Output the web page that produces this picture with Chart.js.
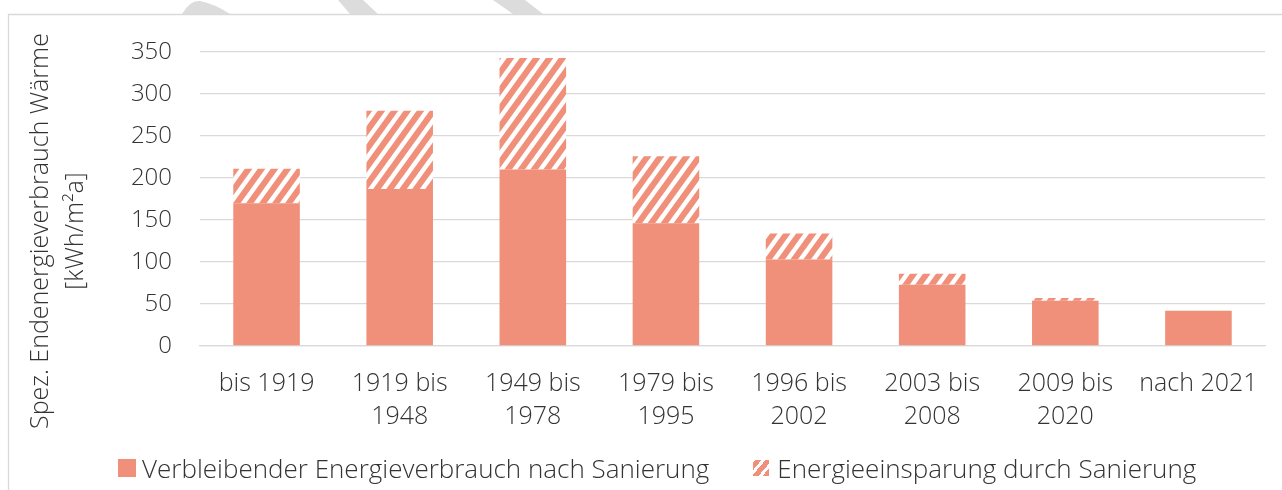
<!DOCTYPE html>
<html>
<head>
<meta charset="utf-8">
<script src="https://cdn.jsdelivr.net/npm/chart.js@4/dist/chart.umd.min.js"></script>
<style>
  html, body { margin: 0; padding: 0; background: #fff; }
  #wrap { position: relative; width: 1282px; height: 490px; }
  #legend {
    position: absolute; left: 118px; top: 453px; height: 30px;
    display: flex; align-items: center;
    font: 300 26px "Open Sans", "Noto Sans", sans-serif; color: #333;
    white-space: nowrap;
  }
  #legend .box { display: inline-block; margin-right: 6px; }
  #legend .item { display: flex; align-items: center; }
</style>
</head>
<body>
<div id="wrap">
  <canvas id="energyChart" width="1282" height="490"></canvas>
  <div id="legend"></div>
</div>
<script>
const categories = [
  ['bis 1919'], ['1919 bis', '1948'], ['1949 bis', '1978'], ['1979 bis', '1995'],
  ['1996 bis', '2002'], ['2003 bis', '2008'], ['2009 bis', '2020'], ['nach 2021']
];
const verbleibend = [170, 187, 210, 146, 103, 73, 54, 42];
const einsparung = [41, 93, 133, 80, 31, 13, 3, 0];
const yTicks = [0, 50, 100, 150, 200, 250, 300, 350];
const yTitle = ['Spez. Endenergieverbrauch Wärme', '[kWh/m²a]'];

const salmon = '#F0907A';
const textColor = '#333333';
const fontFamily = '"Open Sans", "Noto Sans", sans-serif';

function makeHatch(bg) {
  const w = 13, h = 18;
  const c = document.createElement('canvas');
  c.width = w; c.height = h;
  const g = c.getContext('2d');
  g.fillStyle = bg;
  g.fillRect(0, 0, w, h);
  g.strokeStyle = '#ffffff';
  g.lineWidth = 4.5;
  // lines run past the tile so the seams join up
  for (const dx of [-w, 0, w]) {
    g.beginPath();
    g.moveTo(dx - w, 2 * h);
    g.lineTo(dx + 2 * w, -h);
    g.stroke();
  }
  return g.createPattern(c, 'repeat');
}

// frame and faint watermark strokes above it
const framePlugin = {
  id: 'frame',
  beforeDraw(chart) {
    const ctx = chart.ctx;
    ctx.save();
    ctx.fillStyle = '#dcdcdc';
    ctx.beginPath();
    ctx.moveTo(182, 14);
    ctx.quadraticCurveTo(190, 0, 200, 1);
    ctx.quadraticCurveTo(215, 4, 230, 14);
    ctx.closePath();
    ctx.fill();
    ctx.beginPath();
    ctx.moveTo(338, 0); ctx.lineTo(363, 0); ctx.lineTo(378, 14); ctx.lineTo(350, 14);
    ctx.closePath();
    ctx.fill();
    ctx.beginPath();
    ctx.moveTo(493, 0); ctx.lineTo(525, 0); ctx.lineTo(543, 14); ctx.lineTo(513, 14);
    ctx.closePath();
    ctx.fill();
    ctx.fillStyle = '#ffffff';
    ctx.fillRect(8, 14, 1282, 490);
    ctx.strokeStyle = '#d9d9d9';
    ctx.lineWidth = 1.3;
    ctx.beginPath();
    ctx.moveTo(8.5, 490);
    ctx.lineTo(8.5, 14.5);
    ctx.lineTo(1282, 14.5);
    ctx.stroke();
    ctx.restore();
  },
  // y axis title, centred on the whole frame like in the original
  afterDraw(chart) {
    const ctx = chart.ctx;
    ctx.save();
    ctx.translate(0, 231);
    ctx.rotate(-Math.PI / 2);
    ctx.fillStyle = textColor;
    ctx.font = '300 25px ' + fontFamily;
    ctx.textAlign = 'center';
    ctx.textBaseline = 'middle';
    ctx.fillText(yTitle[0], 0, 41);
    ctx.fillText(yTitle[1], 0, 76);
    ctx.restore();
  }
};

const ctx = document.getElementById('energyChart').getContext('2d');
const hatch = makeHatch(salmon);

const chart = new Chart(ctx, {
  type: 'bar',
  data: {
    labels: categories,
    datasets: [
      {
        label: 'Verbleibender Energieverbrauch nach Sanierung',
        data: verbleibend,
        backgroundColor: salmon,
        borderWidth: 0
      },
      {
        label: 'Energieeinsparung durch Sanierung',
        data: einsparung,
        backgroundColor: hatch,
        borderWidth: 0
      }
    ]
  },
  options: {
    responsive: false,
    animation: false,
    layout: { padding: { left: 49, right: 17, top: 52, bottom: 36 } },
    datasets: { bar: { categoryPercentage: 1, barPercentage: 0.5 } },
    scales: {
      x: {
        stacked: true,
        grid: { display: false, drawTicks: false },
        border: { color: '#d9d9d9', width: 1.3 },
        ticks: {
          color: textColor, padding: 21, maxRotation: 0, autoSkip: false,
          font: { family: fontFamily, size: 25, weight: 300, lineHeight: 1.32 }
        }
      },
      y: {
        stacked: true,
        min: 0, max: 350,
        afterBuildTicks(scale) { scale.ticks = yTicks.map(v => ({ value: v })); },
        afterFit(scale) { scale.width = 200 - 49; },
        grid: { color: '#d9d9d9', lineWidth: 1.3, drawTicks: false },
        border: { display: false },
        ticks: {
          color: textColor, padding: 28,
          font: { family: fontFamily, size: 24, weight: 300 }
        }
      }
    },
    plugins: {
      legend: { display: false },
      tooltip: { enabled: false }
    }
  },
  plugins: [framePlugin]
});

// legend as html, spacing like the original
const legendEl = document.getElementById('legend');
chart.data.datasets.forEach((ds, i) => {
  const item = document.createElement('span');
  item.className = 'item';
  if (i > 0) item.style.marginLeft = '44px';
  const box = document.createElement('span');
  box.className = 'box';
  const size = i === 0 ? 18 : 16;
  box.style.width = size + 'px';
  box.style.height = size + 'px';
  box.style.background = i === 0 ? salmon
    : 'repeating-linear-gradient(-50deg, ' + salmon + ' 0 5px, #fff 5px 8px)';
  if (i > 0) box.style.marginRight = '8px';
  item.appendChild(box);
  item.appendChild(document.createTextNode(ds.label));
  legendEl.appendChild(item);
});
</script>
</body>
</html>
